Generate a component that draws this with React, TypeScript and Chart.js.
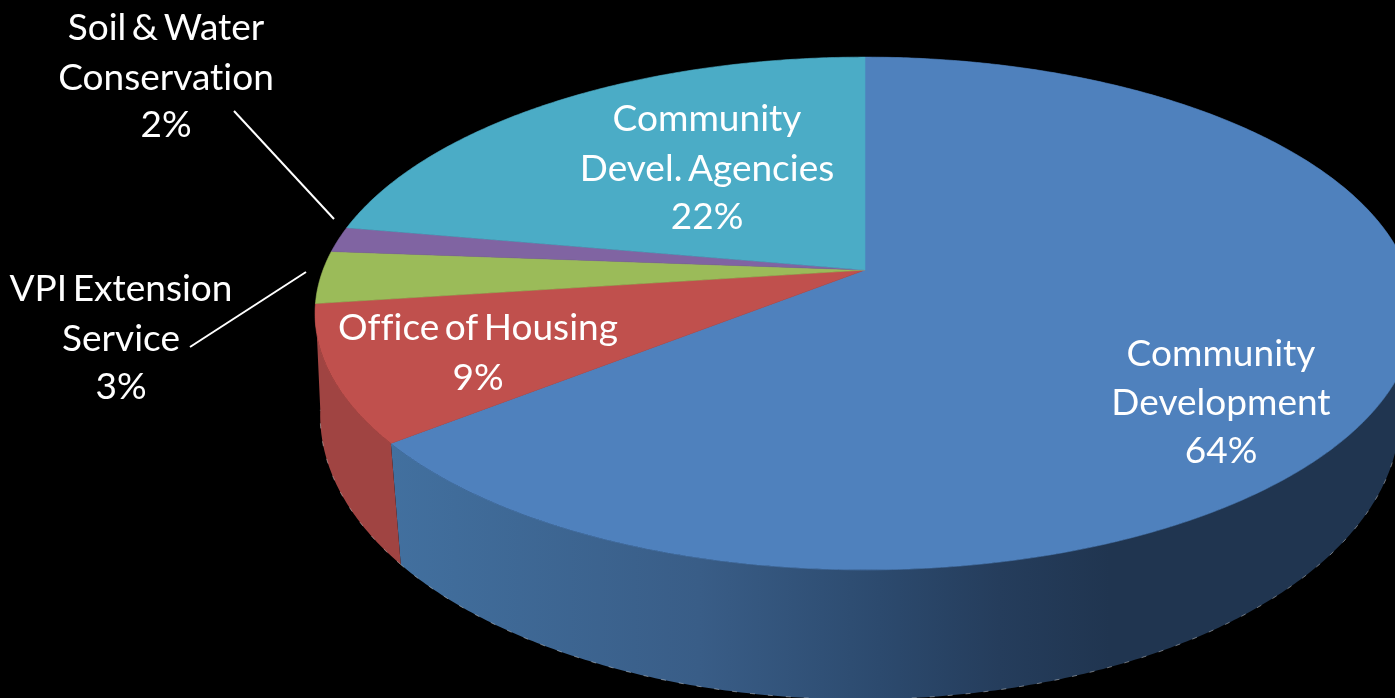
import React, { useEffect, useRef } from "react";
import { Chart, registerables } from "chart.js";

Chart.register(...registerables);

const categories = [
  ["Community", "Development"],
  ["Office of Housing"],
  ["VPI Extension", "Service"],
  ["Soil & Water", "Conservation"],
  ["Community", "Devel. Agencies"],
];
const shares = [64.3, 8.6, 3.3, 1.6, 22.2];
const topColors = ["#4F81BD", "#C0504D", "#9BBB59", "#8064A2", "#4BACC6"];
const wallColors = ["#385a84", "#A04442", "#7f9a49", "#6a5386", "#3e8fa5"];

// Label anchors: centre x and the baseline of each line.
const labelCentres = [1221, 478, 121, 166, 707];
const labelBaselines = [
  [366, 415, 463],
  [340, 390],
  [301, 351, 399],
  [40, 90, 137],
  [131, 181, 229],
];
const leaderLines = [
  null,
  null,
  [190, 347, 306, 272],
  [234, 111, 334, 219],
  null,
];

// Perspective projection of the pie's disc: top face and bottom rim.
const topFace = { x: 865, y: 270, a: 542, b: 249, twist: 0 };
const bottomRim = { x: 860, y: 367, a: 532, b: 276, twist: -0.02 };
const tilt = -0.1696;

function project(face: any, angle: number) {
  const u = Math.cos(angle + face.twist);
  const v = Math.sin(angle + face.twist);
  const w = 1 + tilt * v;
  return [face.x + (face.a * u) / w, face.y + (face.b * v) / w];
}

function rim(face: any, start: number, end: number) {
  const steps = Math.max(2, Math.ceil(Math.abs(end - start) * 120));
  const pts: number[][] = [];
  for (let i = 0; i <= steps; i++) pts.push(project(face, start + ((end - start) * i) / steps));
  return pts;
}

const pie3d = {
  id: "pie3d",
  beforeDatasetsDraw(chart: any) {
    const ctx: CanvasRenderingContext2D = chart.ctx;
    const arcs = chart.getDatasetMeta(0).data;
    const colors = chart.data.datasets[0].backgroundColor;
    ctx.save();

    // walls: only the slices that face the viewer show one
    const blueWall = ctx.createLinearGradient(390, 0, 1110, 0);
    blueWall.addColorStop(0, "#42709f");
    blueWall.addColorStop(0.43, "#395d87");
    blueWall.addColorStop(0.68, "#2c4a6e");
    blueWall.addColorStop(0.847, "#253d5c");
    blueWall.addColorStop(1, "#203550");
    arcs.forEach((arc: any, i: number) => {
      if (Math.sin((arc.startAngle + arc.endAngle) / 2) < 0.1) return;
      const upper = rim(topFace, arc.startAngle, arc.endAngle);
      const lowerEdge = rim(bottomRim, arc.startAngle, arc.endAngle);
      const lower = [...lowerEdge].reverse();
      ctx.beginPath();
      [...upper, ...lower].forEach(([x, y], k) => (k ? ctx.lineTo(x, y) : ctx.moveTo(x, y)));
      ctx.closePath();
      ctx.fillStyle = i === 0 ? blueWall : wallColors[i];
      ctx.fill();
      // light speckled fringe along the bottom rim
      ctx.beginPath();
      lowerEdge.forEach(([x, y], k) => (k ? ctx.lineTo(x, y) : ctx.moveTo(x, y)));
      ctx.setLineDash([5, 13]);
      ctx.lineWidth = 1;
      ctx.strokeStyle = "rgba(255,255,255,0.4)";
      ctx.stroke();
      ctx.setLineDash([]);
    });

    // top faces
    arcs.forEach((arc: any, i: number) => {
      const edge = rim(topFace, arc.startAngle, arc.endAngle);
      ctx.beginPath();
      ctx.moveTo(topFace.x, topFace.y);
      edge.forEach(([x, y]) => ctx.lineTo(x, y));
      ctx.closePath();
      ctx.fillStyle = colors[i];
      ctx.strokeStyle = colors[i];
      ctx.lineWidth = 0.6;
      ctx.fill();
      ctx.stroke();
    });
    ctx.restore();
    return false;
  },
  afterDraw(chart: any) {
    const ctx: any = chart.ctx;
    const values = chart.data.datasets[0].data;
    const total = values.reduce((s: number, v: number) => s + v, 0);
    ctx.save();
    ctx.fillStyle = "#ffffff";
    ctx.textAlign = "center";
    ctx.textBaseline = "alphabetic";
    ctx.font = '37px Lato, "Open Sans", sans-serif';
    ctx.letterSpacing = "0.01px";
    ctx.wordSpacing = "-4px";
    chart.data.labels.forEach((label: string[], i: number) => {
      const lines = [...label, `${Math.round((values[i] / total) * 100)}%`];
      lines.forEach((line, k) => ctx.fillText(line, labelCentres[i], labelBaselines[i][k]));
    });
    ctx.strokeStyle = "#ffffff";
    ctx.lineWidth = 2;
    leaderLines.forEach((l) => {
      if (!l) return;
      ctx.beginPath();
      ctx.moveTo(l[0], l[1]);
      ctx.lineTo(l[2], l[3]);
      ctx.stroke();
    });
    ctx.restore();
  },
};

export default function App() {
  const ref = useRef<HTMLCanvasElement>(null);
  useEffect(() => {
    const chart = new Chart(ref.current as HTMLCanvasElement, {
      type: "pie",
      data: {
        labels: categories as any,
        datasets: [{ data: shares, backgroundColor: topColors, borderWidth: 0 }],
      },
      options: {
        responsive: false,
        animation: false,
        plugins: { legend: { display: false }, tooltip: { enabled: false } },
      },
      plugins: [pie3d as any],
    });
    return () => chart.destroy();
  }, []);
  return (
    <div style={{ position: "fixed", left: 0, top: 0, width: 1395, height: 698, background: "#000", overflow: "hidden" }}>
      <canvas ref={ref} width={1395} height={698} style={{ display: "block" }} />
    </div>
  );
}
